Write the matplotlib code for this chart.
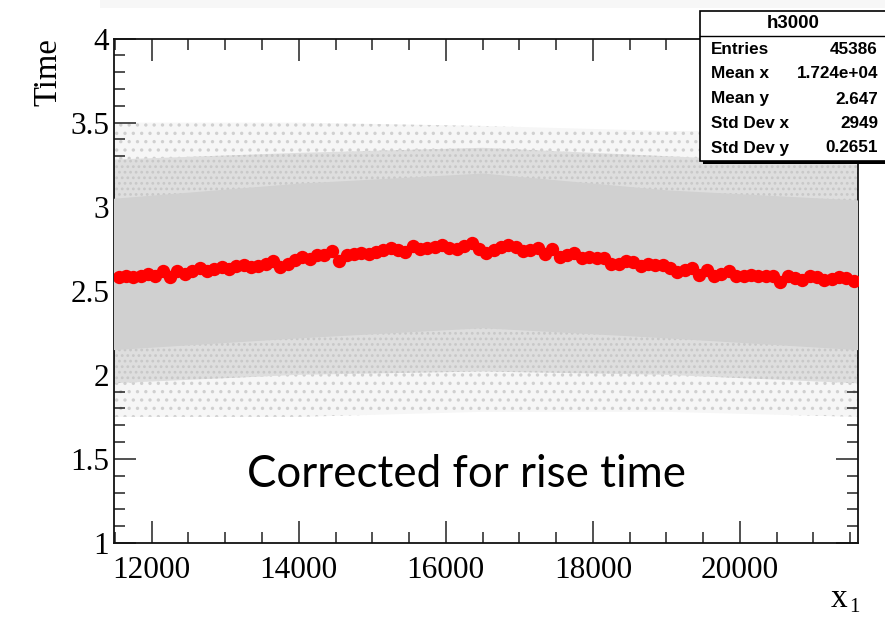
import matplotlib
matplotlib.use("Agg")
import matplotlib.pyplot as plt
from matplotlib.patches import Rectangle
from matplotlib.lines import Line2D
from matplotlib.ticker import MultipleLocator, FixedLocator

# ---------------- data ----------------
profile_x = [11550 + 100 * i for i in range(101)]
profile_y = [2.58, 2.59, 2.58, 2.59, 2.60, 2.59, 2.615, 2.58, 2.615, 2.60,
             2.62, 2.635, 2.62, 2.63, 2.64, 2.63, 2.65, 2.655, 2.64, 2.645,
             2.66, 2.675, 2.64, 2.66, 2.68, 2.70, 2.69, 2.71, 2.715, 2.735,
             2.675, 2.71, 2.72, 2.725, 2.72, 2.73, 2.74, 2.755, 2.74, 2.73,
             2.765, 2.75, 2.755, 2.76, 2.77, 2.755, 2.75, 2.765, 2.785, 2.75,
             2.725, 2.745, 2.76, 2.775, 2.76, 2.735, 2.745, 2.755, 2.72, 2.75,
             2.70, 2.715, 2.725, 2.695, 2.70, 2.695, 2.695, 2.66, 2.66, 2.675,
             2.67, 2.65, 2.66, 2.655, 2.655, 2.635, 2.61, 2.625, 2.635, 2.595,
             2.625, 2.59, 2.60, 2.615, 2.59, 2.59, 2.595, 2.59, 2.59, 2.585,
             2.555, 2.585, 2.575, 2.565, 2.585, 2.58, 2.565, 2.57, 2.58, 2.575,
             2.56]

# envelope of the grey scatter cloud
cloud_x = [11480, 14000, 16500, 19000, 21600]
outer_top = [3.50, 3.50, 3.48, 3.45, 3.45]
outer_bot = [1.75, 1.75, 1.78, 1.78, 1.75]
mid_top = [3.28, 3.32, 3.35, 3.30, 3.25]
mid_bot = [1.95, 2.00, 2.02, 2.00, 1.95]
core_top = [3.05, 3.14, 3.20, 3.10, 3.04]
core_bot = [2.15, 2.22, 2.28, 2.22, 2.15]

x_ticks = [12000, 14000, 16000, 18000, 20000]
x_ticklabels = ["12000", "14000", "16000", "18000", "20000"]
y_ticks = [1, 1.5, 2, 2.5, 3, 3.5, 4]
y_ticklabels = ["1", "1.5", "2", "2.5", "3", "3.5", "4"]

hist_name = "h3000"
stat_labels = ["Entries", "Mean x", "Mean y", "Std Dev x", "Std Dev y"]
stat_values = ["45386", "1.724e+04", "2.647", "2949", "0.2651"]

# ---------------- figure ----------------
W, H = 885, 618
fig = plt.figure(figsize=(W / 100, H / 100), dpi=100)
plt.rcParams["hatch.linewidth"] = 1.2


def fx(px):
    return px / W


def fy(py):
    return 1 - py / H


L, R, T, B = 113.5, 857.5, 38.5, 543
ax = fig.add_axes([fx(L), fy(B), fx(R) - fx(L), fy(T) - fy(B)])
ax.set_xlim(11480, 21600)
ax.set_ylim(1, 4)

ax.fill_between(cloud_x, outer_bot, outer_top, facecolor="#f6f6f6",
                edgecolor="#d0d0d0", hatch="..", lw=0, zorder=1)
ax.fill_between(cloud_x, mid_bot, mid_top, facecolor="#dedede",
                edgecolor="#c8c8c8", hatch="...", lw=0, zorder=2)
ax.fill_between(cloud_x, core_bot, core_top, facecolor="#d0d0d0",
                edgecolor="#c8c8c8", lw=0, zorder=3)

ax.plot(profile_x, profile_y, "o", color="#ff0000", markersize=9.6,
        markeredgewidth=0, zorder=5)

serif = "Liberation Serif"
ax.xaxis.set_major_locator(FixedLocator(x_ticks))
ax.set_xticklabels(x_ticklabels)
ax.xaxis.set_minor_locator(MultipleLocator(500))
ax.yaxis.set_major_locator(FixedLocator(y_ticks))
ax.set_yticklabels(y_ticklabels)
ax.yaxis.set_minor_locator(MultipleLocator(0.1))
ax.tick_params(which="both", direction="in", top=True, right=True,
               color="#222222", width=1.1)
ax.tick_params(which="major", length=16)
ax.tick_params(which="minor", length=8)
ax.tick_params(axis="x", which="major", pad=9)
ax.tick_params(axis="y", which="major", pad=3)
for lab in ax.get_xticklabels() + ax.get_yticklabels():
    lab.set_fontfamily(serif)
    lab.set_fontsize(22.5)
for s in ax.spines.values():
    s.set_linewidth(1.3)
    s.set_color("#111111")

# axis titles
fig.text(fx(48), fy(72), "Time", rotation=90, ha="center", va="center",
         family=serif, fontsize=23.5)
fig.text(fx(839), fy(607), "x", ha="center", va="baseline",
         family=serif, fontsize=24)
fig.text(fx(854), fy(612), "1", ha="center", va="baseline",
         family=serif, fontsize=15)

# annotation
fig.text(fx(466.5), fy(487), "Corrected for rise time", ha="center",
         va="baseline", family="Lato", fontsize=31.6)

# faint band at the top
fig.add_artist(Rectangle((fx(100), fy(8)), fx(885) - fx(100), fy(0) - fy(8),
                         transform=fig.transFigure, facecolor="#f7f7f7",
                         edgecolor="none", zorder=0))

# stats box
bx0, by0, bx1, by1 = 700, 11, 895, 161
fig.add_artist(Rectangle((fx(bx0 + 3), fy(by1 + 3)), fx(bx1) - fx(bx0),
                         fy(by0 + 3) - fy(by1 + 3),
                         transform=fig.transFigure, facecolor="black",
                         edgecolor="none", zorder=10))
fig.add_artist(Rectangle((fx(bx0), fy(by1)), fx(bx1) - fx(bx0),
                         fy(by0) - fy(by1),
                         transform=fig.transFigure, facecolor="white",
                         edgecolor="black", lw=1.2, zorder=11))
fig.add_artist(Line2D([fx(bx0), fx(bx1)], [fy(36), fy(36)],
                      transform=fig.transFigure, color="black", lw=1.0,
                      zorder=12))
fig.text(fx(793), fy(23), hist_name, ha="center", va="center",
         family="Liberation Sans", fontweight="bold", fontsize=13.5,
         zorder=13)
row_y = [49, 74, 99, 123, 148]
for yy, lab, val in zip(row_y, stat_labels, stat_values):
    fig.text(fx(711), fy(yy), lab, ha="left", va="center",
             family="Liberation Sans", fontweight="bold", fontsize=12.3,
             zorder=13)
    fig.text(fx(878), fy(yy), val, ha="right", va="center",
             family="Liberation Sans", fontweight="bold", fontsize=12.3,
             zorder=13)

fig.savefig("out.png", dpi=100)
